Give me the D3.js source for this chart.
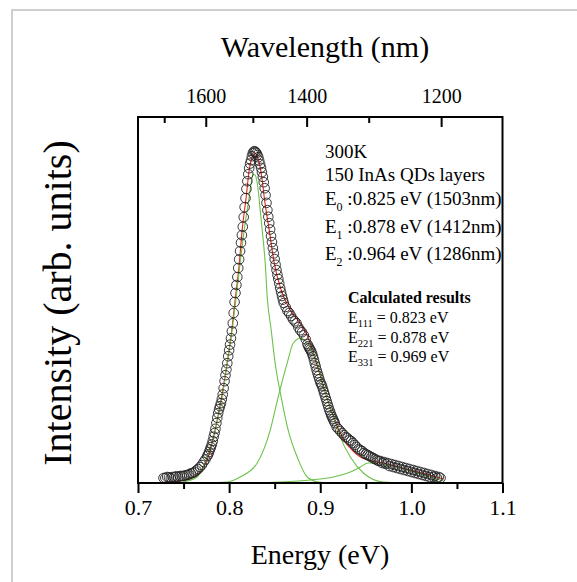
<!DOCTYPE html>
<html>
<head>
<meta charset="utf-8">
<script src="https://cdn.jsdelivr.net/npm/d3@7"></script>
<style>
  html, body { margin: 0; padding: 0; background: #fff; }
  svg { display: block; }
  text { font-family: "Liberation Serif", "Times New Roman", serif; fill: #000; }
</style>
</head>
<body>
<svg id="chart" width="577" height="582"></svg>
<script>
// ---- data ----
// measured PL spectrum: photon energy (eV) and normalized intensity
const energy = [
  0.728,0.730,0.732,0.734,0.736,0.738,0.740,0.742,0.744,0.746,0.748,0.750,0.752,0.754,0.756,0.758,0.760,0.762,0.764,0.766,0.768,0.770,0.772,0.774,
  0.776,0.777,0.778,0.779,0.780,0.781,0.782,0.783,0.784,0.785,0.786,0.787,0.788,0.789,0.790,0.791,0.792,0.793,0.794,0.795,0.796,0.797,0.798,0.799,
  0.800,0.801,0.802,0.803,0.804,0.805,0.806,0.807,0.808,0.809,0.810,0.811,0.812,0.813,0.814,0.815,0.816,0.817,0.818,0.819,0.820,0.821,0.822,0.823,
  0.824,0.825,0.826,0.827,0.828,0.829,0.830,0.831,0.832,0.833,0.834,0.835,0.836,0.837,0.838,0.839,0.840,0.841,0.842,0.843,0.844,0.845,0.846,0.847,
  0.848,0.849,0.850,0.851,0.852,0.853,0.854,0.855,0.856,0.857,0.858,0.859,0.860,0.862,0.864,0.866,0.868,0.870,0.872,0.874,0.876,0.878,0.880,0.882,
  0.884,0.886,0.887,0.888,0.889,0.890,0.891,0.892,0.893,0.894,0.895,0.896,0.897,0.898,0.899,0.900,0.901,0.902,0.903,0.904,0.905,0.906,0.907,0.908,
  0.909,0.910,0.911,0.912,0.913,0.914,0.915,0.916,0.918,0.920,0.922,0.924,0.926,0.928,0.930,0.932,0.934,0.936,0.938,0.940,0.942,0.944,0.946,0.948,
  0.950,0.952,0.954,0.956,0.958,0.960,0.962,0.964,0.966,0.968,0.970,0.972,0.974,0.976,0.978,0.980,0.982,0.984,0.986,0.988,0.990,0.992,0.994,0.996,
  0.998,1.000,1.002,1.004,1.006,1.008,1.010,1.012,1.014,1.016,1.018,1.020,1.022,1.024,1.026,1.028,1.030,1.032
];
const intensity = [
  0.015,0.015,0.018,0.017,0.015,0.018,0.018,0.020,0.018,0.021,0.021,0.021,0.023,0.024,0.026,0.029,0.030,0.033,0.038,0.042,0.048,0.054,0.063,0.071,
  0.081,0.086,0.093,0.101,0.108,0.116,0.126,0.139,0.150,0.163,0.180,0.196,0.210,0.222,0.231,0.240,0.252,0.266,0.285,0.306,0.324,0.341,0.360,0.381,
  0.399,0.416,0.435,0.456,0.480,0.511,0.544,0.571,0.595,0.619,0.646,0.672,0.697,0.722,0.745,0.770,0.799,0.829,0.856,0.884,0.907,0.928,0.946,0.960,
  0.970,0.982,0.991,0.996,0.997,0.995,0.991,0.986,0.979,0.969,0.958,0.947,0.934,0.920,0.904,0.886,0.865,0.842,0.820,0.800,0.781,0.762,0.742,0.724,
  0.706,0.690,0.673,0.656,0.640,0.626,0.613,0.600,0.586,0.574,0.562,0.551,0.541,0.529,0.517,0.511,0.502,0.492,0.486,0.480,0.468,0.459,0.453,0.444,
  0.432,0.417,0.411,0.405,0.401,0.396,0.389,0.381,0.371,0.360,0.350,0.339,0.330,0.321,0.312,0.303,0.297,0.291,0.282,0.273,0.264,0.255,0.246,0.237,
  0.228,0.219,0.212,0.204,0.198,0.192,0.186,0.180,0.168,0.162,0.156,0.150,0.144,0.138,0.135,0.129,0.126,0.120,0.114,0.108,0.102,0.099,0.096,0.090,
  0.087,0.084,0.081,0.078,0.075,0.072,0.069,0.066,0.066,0.060,0.063,0.057,0.060,0.051,0.057,0.048,0.054,0.045,0.051,0.042,0.048,0.039,0.045,0.036,
  0.042,0.033,0.039,0.030,0.036,0.027,0.033,0.024,0.030,0.021,0.027,0.018,0.024,0.018,0.021,0.015,0.018,0.015
];

// fitted components (green) and their sum (red), as [energy, intensity]
const peakE0 = [[0.728,0],[0.7407,0],[0.7495,0.003],[0.7648,0.018],[0.7758,0.078],[0.7846,0.159],[0.7923,0.258],[0.7978,0.360],[0.8033,0.459],
  [0.8077,0.559],[0.8121,0.661],[0.8165,0.760],[0.8220,0.859],[0.8242,0.901],[0.8264,0.928],[0.8286,0.925],[0.8319,0.880],[0.8341,0.820],
  [0.8363,0.760],[0.8396,0.661],[0.8418,0.559],[0.8462,0.459],[0.8505,0.360],[0.8571,0.258],[0.8648,0.159],[0.8747,0.078],[0.8857,0.018],
  [0.8978,0.003],[0.9165,0],[1.032,0]];
const peakE1 = [[0.728,0],[0.7681,0],[0.7978,0.003],[0.8121,0.018],[0.8308,0.060],[0.8451,0.159],[0.8538,0.258],[0.8637,0.360],[0.8703,0.420],
  [0.8780,0.435],[0.8890,0.408],[0.8967,0.360],[0.9033,0.288],[0.9132,0.210],[0.9220,0.138],[0.9330,0.078],[0.9473,0.030],[0.9692,0.003],
  [0.9989,0],[1.032,0]];
const peakE2 = [[0.728,0],[0.8231,0],[0.8560,0.003],[0.8890,0.009],[0.9143,0.018],[0.9330,0.033],[0.9440,0.048],[0.9527,0.060],[0.9659,0.057],
  [0.9879,0.045],[1.0099,0.027],[1.0352,0.006]];
const fitSum = [[0.728,0.002],[0.7352,0.003],[0.7516,0.009],[0.7659,0.027],[0.7758,0.069],[0.7835,0.144],[0.7901,0.234],[0.7967,0.339],
  [0.8022,0.444],[0.8066,0.550],[0.8110,0.655],[0.8143,0.760],[0.8187,0.859],[0.8220,0.940],[0.8253,0.979],[0.8286,0.991],[0.8308,0.982],
  [0.8363,0.910],[0.8385,0.859],[0.8440,0.760],[0.8495,0.661],[0.8571,0.580],[0.8670,0.520],[0.8780,0.480],[0.8879,0.429],[0.8923,0.390],
  [0.8978,0.342],[0.9022,0.303],[0.9066,0.261],[0.9110,0.225],[0.9165,0.186],[0.9220,0.150],[0.9275,0.123],[0.9330,0.105],[0.9396,0.087],
  [0.9462,0.075],[0.9571,0.066],[0.9692,0.060],[0.9824,0.051],[0.9989,0.039],[1.0154,0.027],[1.0352,0.012]];

// axis ticks
const energyTicks = [0.7, 0.8, 0.9, 1.0, 1.1];
const energyMinor = [0.75, 0.85, 0.95, 1.05];
const wavelengthTicks = [1600, 1400, 1200];
const wavelengthMinor = [1700, 1500, 1300];
const HC = 1239.84; // eV·nm

// annotation text
const annoTop = ["300K", "150 InAs QDs layers"];
const levels = [
  {sub: "0", text: " :0.825 eV (1503nm)"},
  {sub: "1", text: " :0.878 eV (1412nm)"},
  {sub: "2", text: " :0.964 eV (1286nm)"}
];
const calcTitle = "Calculated results";
const calcRows = [
  {sub: "111", text: " = 0.823 eV"},
  {sub: "221", text: " = 0.878 eV"},
  {sub: "331", text: " = 0.969 eV"}
];

// ---- drawing ----
const svg = d3.select("#chart");
const W = 577, H = 582;
const L = 138, R = 502.5, T = 117, B = 483;

svg.append("rect").attr("x", 0).attr("y", 0).attr("width", W).attr("height", H).attr("fill", "#fff");
// outer light grey frame
svg.append("rect").attr("x", 12).attr("y", 10).attr("width", 566).attr("height", 600)
  .attr("fill", "none").attr("stroke", "#cfcfcf").attr("stroke-width", 2);

const x = d3.scaleLinear().domain([0.7, 1.1]).range([L, R]);
const y = d3.scaleLinear().domain([0, 1.1]).range([B, T]);

const line = d3.line().x(d => x(d[0])).y(d => y(d[1])).curve(d3.curveMonotoneX);
// red sum first, green components over it
svg.append("path").datum(fitSum).attr("d", line).attr("fill", "none")
  .attr("stroke", "#e8251c").attr("stroke-width", 1.1);
[peakE0, peakE1, peakE2].forEach(p => {
  svg.append("path").datum(p).attr("d", line).attr("fill", "none")
    .attr("stroke", "#6cc24a").attr("stroke-width", 1.1);
});

// data circles (hollow)
const pts = energy.map((e, i) => [e, intensity[i]]);
svg.append("g").selectAll("circle").data(pts).join("circle")
  .attr("cx", d => x(d[0])).attr("cy", d => y(d[1])).attr("r", 4.8)
  .attr("fill", "none").attr("stroke", "#222").attr("stroke-width", 0.9);

// plot frame
svg.append("rect").attr("x", L).attr("y", T).attr("width", R - L).attr("height", B - T)
  .attr("fill", "none").attr("stroke", "#000").attr("stroke-width", 2);

// bottom axis (energy)
const xAxis = d3.axisBottom(x).tickValues(energyTicks).tickFormat(d3.format(".1f")).tickSize(10).tickPadding(6);
const gx = svg.append("g").attr("transform", `translate(0,${B})`).call(xAxis);
gx.select(".domain").remove();
gx.selectAll(".tick line").attr("stroke", "#000").attr("stroke-width", 2);
gx.selectAll(".tick text").attr("font-size", 22).attr("font-family", "Liberation Serif, serif").attr("fill", "#000");
const xAxisMinor = d3.axisBottom(x).tickValues(energyMinor).tickFormat("").tickSize(6);
const gxm = svg.append("g").attr("transform", `translate(0,${B})`).call(xAxisMinor);
gxm.select(".domain").remove();
gxm.selectAll(".tick line").attr("stroke", "#000").attr("stroke-width", 2);

// top axis (wavelength) placed through the energy scale, E = hc / lambda
const gTop = svg.append("g");
gTop.selectAll("line.maj").data(wavelengthTicks).join("line").attr("class", "maj")
  .attr("x1", d => x(HC / d)).attr("x2", d => x(HC / d)).attr("y1", T).attr("y2", T + 10)
  .attr("stroke", "#000").attr("stroke-width", 2);
gTop.selectAll("line.min").data(wavelengthMinor).join("line").attr("class", "min")
  .attr("x1", d => x(HC / d)).attr("x2", d => x(HC / d)).attr("y1", T).attr("y2", T + 6)
  .attr("stroke", "#000").attr("stroke-width", 2);
gTop.selectAll("text").data(wavelengthTicks).join("text")
  .attr("x", d => x(HC / d)).attr("y", 103).attr("text-anchor", "middle")
  .attr("font-size", 20).text(d => d);

// axis titles
svg.append("text").attr("x", 325).attr("y", 57).attr("text-anchor", "middle").attr("font-size", 30).text("Wavelength (nm)");
svg.append("text").attr("x", 320).attr("y", 564).attr("text-anchor", "middle").attr("font-size", 28).text("Energy (eV)");
svg.append("text").attr("transform", "translate(71,303) rotate(-90)").attr("text-anchor", "middle")
  .attr("font-size", 40).text("Intensity (arb. units)");

// annotations
const ax = 325;
svg.append("text").attr("x", ax).attr("y", 158).attr("font-size", 19).text(annoTop[0]);
svg.append("text").attr("x", ax).attr("y", 181).attr("font-size", 19).text(annoTop[1]);
levels.forEach((d, i) => {
  const t = svg.append("text").attr("x", ax).attr("y", 205 + i * 27.5).attr("font-size", 19);
  t.append("tspan").text("E");
  t.append("tspan").attr("font-size", 12).attr("dy", 6).text(d.sub);
  t.append("tspan").attr("dy", -6).text(d.text);
});
const cx0 = 348;
svg.append("text").attr("x", cx0).attr("y", 303).attr("font-size", 16).attr("font-weight", "bold").text(calcTitle);
calcRows.forEach((d, i) => {
  const t = svg.append("text").attr("x", cx0).attr("y", 323 + i * 19.5).attr("font-size", 16);
  t.append("tspan").text("E");
  t.append("tspan").attr("font-size", 10.5).attr("dy", 4).text(d.sub);
  t.append("tspan").attr("dy", -4).text(d.text);
});
</script>
</body>
</html>
